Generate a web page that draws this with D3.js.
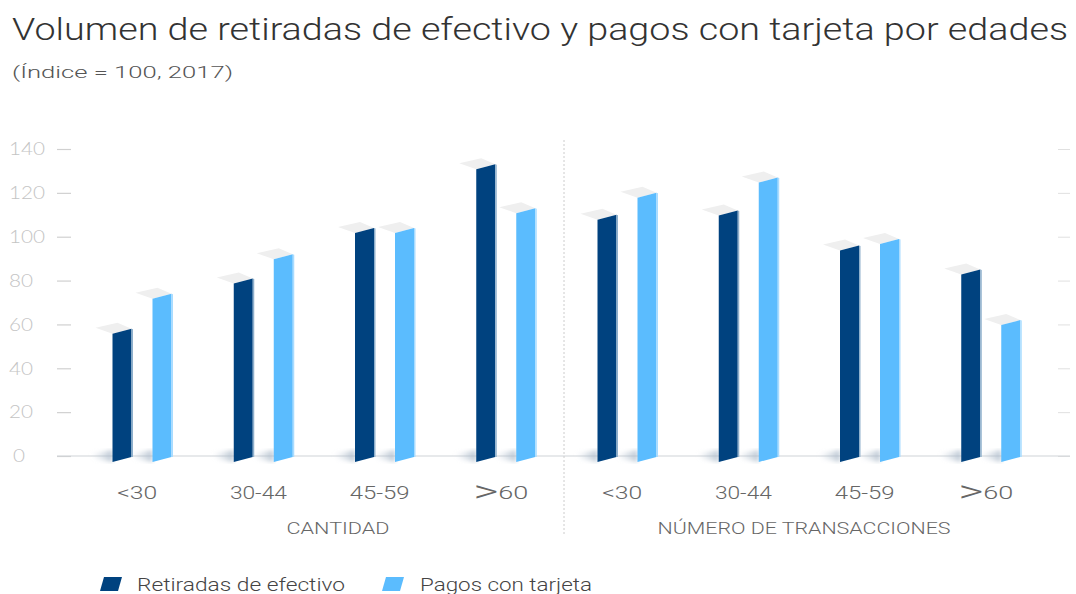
<!DOCTYPE html>
<html><head><meta charset="utf-8">
<script src="https://cdn.jsdelivr.net/npm/d3@7"></script>
<style>body{margin:0;background:#fff}svg{display:block}</style>
</head><body>
<svg id="c" width="1076" height="594"></svg>
<script>
const panels = ["CANTIDAD", "NÚMERO DE TRANSACCIONES"];
const ages = ["<30", "30-44", "45-59", ">60"];
const seriesNames = ["Retiradas de efectivo", "Pagos con tarjeta"];
const retiradas = [58, 81, 104, 133, 110, 112, 96, 85];
const pagos = [74, 92, 104, 113, 120, 127, 99, 62];
const yTicks = [0, 20, 40, 60, 80, 100, 120, 140];
const colors = ["#00427f", "#5bbcfe"];

const svg = d3.select("#c");
const groups = [];
panels.forEach((p, pi) => ages.forEach((a, ai) => groups.push({key: pi + "-" + a, panel: pi, age: a})));

const x = d3.scaleBand().domain(groups.map(g => g.key)).range([81.5, 1051.5]).padding(0);
const xs = d3.scaleBand().domain(seriesNames).range([31, 90]).paddingInner(0.525).paddingOuter(0);
const y = d3.scaleLinear().domain([0, 140]).range([456, 149]);

const labelFont = "Lato";
// title
svg.append("text").attr("x", 12).attr("y", 40).attr("textLength", 1056).attr("lengthAdjust", "spacingAndGlyphs")
  .style("font-family", "Roboto").style("font-weight", 300).style("font-size", "32px").attr("fill", "#333")
  .text("Volumen de retiradas de efectivo y pagos con tarjeta por edades");
svg.append("text").attr("x", 12).attr("y", 78).attr("textLength", 221).attr("lengthAdjust", "spacingAndGlyphs")
  .style("font-family", "Roboto").style("font-weight", 300).style("font-size", "17px").attr("fill", "#555")
  .text("(Índice = 100, 2017)");

// y axis
const yAxis = svg.append("g").attr("transform", "translate(71,0)")
  .call(d3.axisLeft(y).tickValues(yTicks).tickSize(14).tickPadding(12));
yAxis.select(".domain").remove();
yAxis.selectAll(".tick line").attr("stroke", "#d0d0d0").attr("stroke-width", 1.2);
yAxis.selectAll(".tick text")
  .attr("text-anchor", "start").attr("x", d => d === 0 ? -58 : -62)
  .attr("textLength", d => String(d).length * 12).attr("lengthAdjust", "spacingAndGlyphs")
  .attr("fill", "#c4c4c4").style("font-family", "Lato").style("font-size", "18px").style("font-weight", 300);
// right small ticks
const yAxisR = svg.append("g").attr("transform", "translate(1058,0)")
  .call(d3.axisRight(y).tickValues(yTicks).tickSize(12).tickFormat(""));
yAxisR.select(".domain").remove();
yAxisR.selectAll(".tick line").attr("stroke", "#e0e0e0");

// baseline
svg.append("line").attr("x1", 57).attr("x2", 1070).attr("y1", y(0)).attr("y2", y(0)).attr("stroke", "#cfd3d8").attr("stroke-width", 1.2);

// separator
svg.append("line").attr("x1", 564).attr("x2", 564).attr("y1", 140).attr("y2", 536)
  .attr("stroke", "#cccccc").attr("stroke-dasharray", "2,2");

// shadow gradient
const defs = svg.append("defs");
const grad = defs.append("linearGradient").attr("id", "sh").attr("x1", "0").attr("x2", "1");
grad.append("stop").attr("offset", "0").attr("stop-color", "#c8d2dc").attr("stop-opacity", 0);
grad.append("stop").attr("offset", "1").attr("stop-color", "#a9b8c8").attr("stop-opacity", 0.8);
defs.append("filter").attr("id", "blur").append("feGaussianBlur").attr("stdDeviation", 2);

const data = [];
groups.forEach((g, i) => {
  data.push({g: g.key, s: seriesNames[0], v: retiradas[i], c: colors[0]});
  data.push({g: g.key, s: seriesNames[1], v: pagos[i], c: colors[1]});
});

const slant = 5, w = xs.bandwidth();
const bars = svg.append("g").selectAll("g").data(data).join("g")
  .attr("transform", d => `translate(${x(d.g) + xs(d.s)},0)`);
// shadow
bars.append("path").attr("d", d => {
  const b = y(0);
  return `M-22,${b - 2} L0,${b - 6} L0,${b + 6} L-16,${b + 3} Z`;
}).attr("fill", "url(#sh)").attr("filter", "url(#blur)");
// top face
bars.append("path").attr("d", d => {
  const t = y(d.v);
  return `M0,${t + slant} L${w},${t} L${w - 14},${t - 6} L-17,${t - 1} Z`;
}).attr("fill", "#efefef");
// front face
bars.append("path").attr("d", d => {
  const t = y(d.v), b = y(0);
  return `M0,${t + slant} L${w},${t} L${w},${b + 1} L0,${b + slant + 1} Z`;
}).attr("fill", d => d.c);
// thin light edge on the right
bars.append("path").attr("d", d => {
  const t = y(d.v), b = y(0);
  return `M${w},${t} L${w + 1.5},${t + 0.5} L${w + 1.5},${b + 1} L${w},${b + 1} Z`;
}).attr("fill", d => d.c === colors[0] ? "#8fb0cc" : "#a9dcff");

// category labels
const labW = {"<30": 40, "30-44": 57, "45-59": 60, ">60": 55};
const lab = svg.append("g").selectAll("text").data(groups).join("text")
  .attr("x", d => x(d.key) + x.bandwidth() / 2 - 5).attr("y", 499)
  .attr("text-anchor", "middle").attr("fill", "#666")
  .attr("textLength", d => labW[d.age]).attr("lengthAdjust", "spacingAndGlyphs")
  .style("font-family", "Roboto").style("font-weight", 300).style("font-size", "18px");
lab.each(function(d) {
  const t = d3.select(this);
  if (d.age.startsWith(">")) {
    t.append("tspan").style("font-size", "32px").attr("dy", "3").text(">");
    t.append("tspan").attr("dy", "-3").text(d.age.slice(1));
  } else t.text(d.age);
});

// panel labels
const panW = [103, 293];
svg.append("g").selectAll("text").data(panels).join("text")
  .attr("x", (d, i) => i === 0 ? 338 : 804).attr("y", 534).attr("text-anchor", "middle")
  .attr("textLength", (d, i) => panW[i]).attr("lengthAdjust", "spacingAndGlyphs")
  .attr("fill", "#666").style("font-family", "Roboto").style("font-weight", 300).style("font-size", "16px")
  .text(d => d);

// legend
const legX = [100, 382];
const legW = [208, 172];
const leg = svg.append("g").selectAll("g").data(seriesNames).join("g")
  .attr("transform", (d, i) => `translate(${legX[i]},0)`);
leg.append("path").attr("d", "M4,577 L22,577 L18,591 L0,591 Z").attr("fill", (d, i) => colors[i]);
leg.append("text").attr("x", (d, i) => i === 0 ? 37 : 38).attr("y", 591)
  .attr("textLength", (d, i) => legW[i]).attr("lengthAdjust", "spacingAndGlyphs")
  .attr("fill", "#444").style("font-family", "Roboto").style("font-weight", 300).style("font-size", "18px")
  .text(d => d);
</script>
</body></html>
